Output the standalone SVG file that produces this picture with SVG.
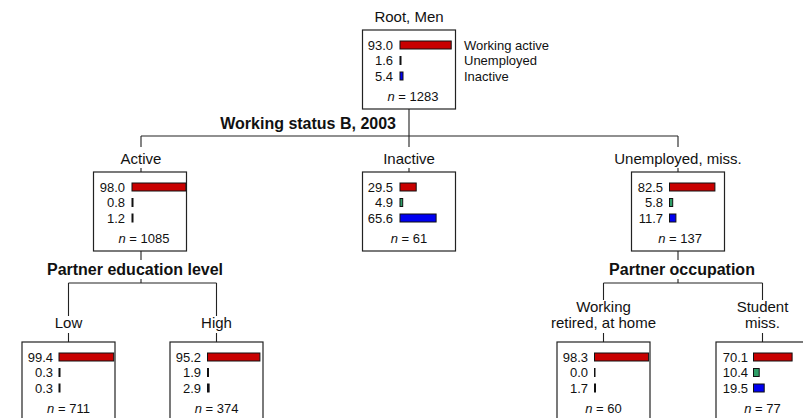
<svg xmlns="http://www.w3.org/2000/svg" width="803" height="418" viewBox="0 0 803 418">
<style>
text{font-family:"Liberation Sans",Arial,sans-serif;fill:#111}
.lab{font-size:15px;text-anchor:middle}
.split{font-size:16px;font-weight:bold}
.num{font-size:13px;text-anchor:end}
.nn{font-size:13px;text-anchor:middle}
.leg{font-size:13px}
.box{fill:#fff;stroke:#222;stroke-width:1.2}
.r{fill:#c80000;stroke:#111;stroke-width:1}
.g{fill:#2e9e66;stroke:#111;stroke-width:1}
.b{fill:#0000f0;stroke:#111;stroke-width:1}
.ln{stroke:#222;stroke-width:1.1;fill:none}
</style>
<rect width="803" height="418" fill="#fff"/>
<g id="connectors">
<path class="ln" d="M409,109V136M141,136H678M141,136V147M141,168V172M409,136V147M409,168V172M678,136V147M678,168V172"/>
<path class="ln" d="M141,251V260M141,279V283M68.5,283H216.5M68.5,283V316M68.5,333V342M216.5,283V316M216.5,333V342"/>
<path class="ln" d="M678,251V260M678,279V283M603.5,283H762.5M603.5,283V300M603.5,333V342M762.5,283V300M762.5,333V342"/>
</g>
<g id="split-labels">
<text class="split" x="396" y="129" text-anchor="end">Working status B, 2003</text>
<text class="split" x="135" y="275" text-anchor="middle">Partner education level</text>
<text class="split" x="682" y="275" text-anchor="middle">Partner occupation</text>
</g>
<g id="root">
<text class="lab" x="409" y="22">Root, Men</text>
<rect class="box" x="362.5" y="30" width="93" height="79"/>
<text class="num" x="393" y="49.5">93.0</text><rect class="r" x="400" y="41" width="51.2" height="8"/>
<text class="num" x="393" y="65">1.6</text><rect class="r" x="400" y="56.5" width="1" height="8" style="fill:#111"/>
<text class="num" x="393" y="80.5">5.4</text><rect class="b" x="400" y="72" width="3" height="8"/>
<text class="nn" x="413" y="100.5"><tspan font-style="italic">n</tspan> = 1283</text>
<text class="leg" x="464" y="49.5">Working active</text>
<text class="leg" x="464" y="65">Unemployed</text>
<text class="leg" x="464" y="80.5">Inactive</text>
</g>
<g id="active">
<text class="lab" x="141" y="164">Active</text>
<rect class="box" x="93.5" y="172" width="93" height="79"/>
<text class="num" x="125" y="191.5">98.0</text><rect class="r" x="132" y="183" width="53.9" height="8"/>
<text class="num" x="125" y="207">0.8</text><rect class="r" x="132" y="198.5" width="1" height="8" style="fill:#111"/>
<text class="num" x="125" y="222.5">1.2</text><rect class="b" x="132" y="214" width="1" height="8" style="fill:#111"/>
<text class="nn" x="144" y="242.5"><tspan font-style="italic">n</tspan> = 1085</text>
</g>
<g id="inactive">
<text class="lab" x="409" y="164">Inactive</text>
<rect class="box" x="362.5" y="172" width="93" height="79"/>
<text class="num" x="393" y="191.5">29.5</text><rect class="r" x="400" y="183" width="16.2" height="8"/>
<text class="num" x="393" y="207">4.9</text><rect class="g" x="400" y="198.5" width="2.7" height="8"/>
<text class="num" x="393" y="222.5">65.6</text><rect class="b" x="400" y="214" width="36.1" height="8"/>
<text class="nn" x="409" y="242.5"><tspan font-style="italic">n</tspan> = 61</text>
</g>
<g id="unemployed">
<text class="lab" x="678" y="164">Unemployed, miss.</text>
<rect class="box" x="631.5" y="172" width="93" height="79"/>
<text class="num" x="663" y="191.5">82.5</text><rect class="r" x="669.5" y="183" width="45.4" height="8"/>
<text class="num" x="663" y="207">5.8</text><rect class="g" x="669.5" y="198.5" width="3.2" height="8"/>
<text class="num" x="663" y="222.5">11.7</text><rect class="b" x="669.5" y="214" width="6.4" height="8"/>
<text class="nn" x="680" y="242.5"><tspan font-style="italic">n</tspan> = 137</text>
</g>
<g id="low">
<text class="lab" x="68.5" y="328">Low</text>
<rect class="box" x="22" y="342" width="93" height="79"/>
<text class="num" x="53" y="361.5">99.4</text><rect class="r" x="59" y="353" width="54.7" height="8"/>
<text class="num" x="53" y="377">0.3</text><rect class="r" x="59" y="368.5" width="1" height="8" style="fill:#111"/>
<text class="num" x="53" y="392.5">0.3</text><rect class="b" x="59" y="384" width="1" height="8" style="fill:#111"/>
<text class="nn" x="68.5" y="412.5"><tspan font-style="italic">n</tspan> = 711</text>
</g>
<g id="high">
<text class="lab" x="216.5" y="328">High</text>
<rect class="box" x="170" y="342" width="93" height="79"/>
<text class="num" x="201" y="361.5">95.2</text><rect class="r" x="207.5" y="353" width="52.4" height="8"/>
<text class="num" x="201" y="377">1.9</text><rect class="r" x="207.5" y="368.5" width="1" height="8" style="fill:#111"/>
<text class="num" x="201" y="392.5">2.9</text><rect class="b" x="207.5" y="384" width="1.6" height="8" style="fill:#112"/>
<text class="nn" x="216.5" y="412.5"><tspan font-style="italic">n</tspan> = 374</text>
</g>
<g id="working">
<text class="lab" x="603.5" y="312">Working</text>
<text class="lab" x="603.5" y="328">retired, at home</text>
<rect class="box" x="557" y="342" width="93" height="79"/>
<text class="num" x="588" y="361.5">98.3</text><rect class="r" x="594.5" y="353" width="54.1" height="8"/>
<text class="num" x="588" y="377">0.0</text><rect class="r" x="594.5" y="368.5" width="0.5" height="8" style="fill:#111"/>
<text class="num" x="588" y="392.5">1.7</text><rect class="b" x="594.5" y="384" width="1" height="8" style="fill:#111"/>
<text class="nn" x="603.5" y="412.5"><tspan font-style="italic">n</tspan> = 60</text>
</g>
<g id="student">
<text class="lab" x="762.5" y="312">Student</text>
<text class="lab" x="762.5" y="328">miss.</text>
<rect class="box" x="716" y="342" width="93" height="79"/>
<text class="num" x="748" y="361.5">70.1</text><rect class="r" x="753.5" y="353" width="38.6" height="8"/>
<text class="num" x="748" y="377">10.4</text><rect class="g" x="753.5" y="368.5" width="5.7" height="8"/>
<text class="num" x="748" y="392.5">19.5</text><rect class="b" x="753.5" y="384" width="10.7" height="8"/>
<text class="nn" x="762.5" y="412.5"><tspan font-style="italic">n</tspan> = 77</text>
</g>
</svg>
